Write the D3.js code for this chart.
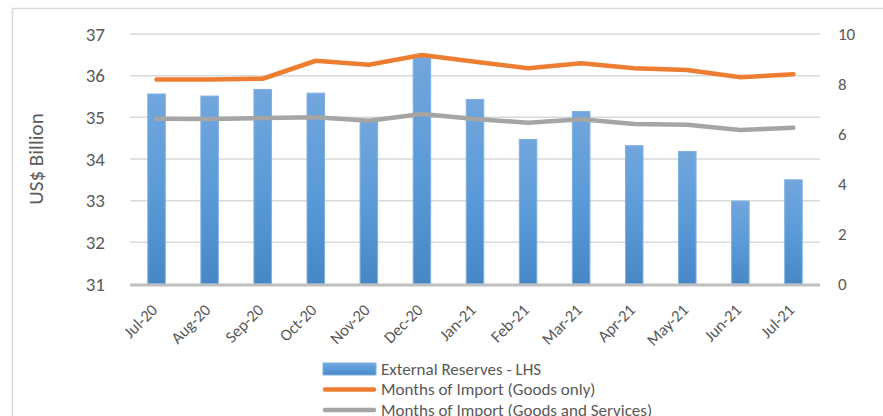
<!DOCTYPE html>
<html>
<head>
<meta charset="utf-8">
<script src="https://cdn.jsdelivr.net/npm/d3@7"></script>
<style>
  body { margin: 0; background: #fff; }
  svg text { font-family: Carlito, Lato, "Open Sans", sans-serif; fill: #595959; }
</style>
</head>
<body>
<div id="chart"></div>
<script>
// data
var months = ["Jul-20","Aug-20","Sep-20","Oct-20","Nov-20","Dec-20","Jan-21","Feb-21","Mar-21","Apr-21","May-21","Jun-21","Jul-21"];
var reserves = [35.56, 35.51, 35.67, 35.58, 34.92, 36.44, 35.43, 34.47, 35.14, 34.32, 34.18, 32.99, 33.50];
var goodsOnly = [8.18, 8.18, 8.21, 8.93, 8.77, 9.16, 8.89, 8.63, 8.83, 8.63, 8.56, 8.27, 8.39];
var goodsServices = [6.61, 6.60, 6.64, 6.67, 6.53, 6.80, 6.60, 6.45, 6.59, 6.40, 6.37, 6.16, 6.25];
var leftTicks = [31, 32, 33, 34, 35, 36, 37];
var rightTicks = [0, 2, 4, 6, 8, 10];
var legendLabels = ["External Reserves - LHS", "Months of Import (Goods only)", "Months of Import (Goods and Services)"];

var W = 883, H = 416;
var plot = {left: 130, right: 820, top: 34, bottom: 284};

var svg = d3.select("#chart").append("svg")
  .attr("width", W)
  .attr("height", H);

// bar gradient
var grad = svg.append("defs").append("linearGradient")
  .attr("id", "barGrad")
  .attr("x1", 0).attr("y1", 0).attr("x2", 0).attr("y2", 1);
grad.append("stop").attr("offset", "0%").attr("stop-color", "#72a6dd");
grad.append("stop").attr("offset", "50%").attr("stop-color", "#5b9bd8");
grad.append("stop").attr("offset", "100%").attr("stop-color", "#4787c6");

// outer frame
svg.append("path")
  .attr("d", "M12.5," + H + "V8.5H" + W)
  .attr("fill", "none")
  .attr("stroke", "#d9d9d9")
  .attr("stroke-width", 1.5);

var x = d3.scaleBand()
  .domain(months)
  .range([plot.left, plot.right])
  .paddingInner(0.67)
  .paddingOuter(0.335);

var yL = d3.scaleLinear().domain([31, 37]).range([plot.bottom, plot.top]);
var yR = d3.scaleLinear().domain([0, 10]).range([plot.bottom, plot.top]);

// gridlines
svg.append("g")
  .selectAll("line")
  .data(leftTicks.slice(1))
  .enter().append("line")
    .attr("x1", plot.left).attr("x2", plot.right)
    .attr("y1", function(d) { return yL(d); })
    .attr("y2", function(d) { return yL(d); })
    .attr("stroke", "#d9d9d9")
    .attr("stroke-width", 1.5);

// left axis
var gl = svg.append("g")
  .attr("transform", "translate(" + (plot.left - 25) + ",0)")
  .call(d3.axisLeft(yL).tickValues(leftTicks).tickFormat(d3.format("d")).tickSize(0).tickPadding(0));
gl.select(".domain").remove();
gl.selectAll("text").style("font-size", "19px").attr("fill", "#595959");

// right axis
var gr = svg.append("g")
  .attr("transform", "translate(" + (plot.right + 18) + ",0)")
  .call(d3.axisRight(yR).tickValues(rightTicks).tickSize(0).tickPadding(0));
gr.select(".domain").remove();
gr.selectAll("text").style("font-size", "17px").attr("fill", "#595959");

// y title
svg.append("text")
  .attr("transform", "translate(43,159) rotate(-90)")
  .attr("text-anchor", "middle")
  .style("font-size", "21px")
  .text("US$ Billion");

// bars
svg.append("g")
  .selectAll("rect")
  .data(reserves)
  .enter().append("rect")
    .attr("x", function(d, i) { return x(months[i]); })
    .attr("y", function(d) { return yL(d); })
    .attr("width", x.bandwidth())
    .attr("height", function(d) { return yL(31) - yL(d); })
    .attr("fill", "url(#barGrad)")
    .attr("stroke", "#7fb0e3")
    .attr("stroke-width", 1);

// baseline
svg.append("line")
  .attr("x1", plot.left).attr("x2", plot.right)
  .attr("y1", plot.bottom + 1).attr("y2", plot.bottom + 1)
  .attr("stroke", "#bfbfbf")
  .attr("stroke-width", 3);

var cx = function(d, i) { return x(months[i]) + x.bandwidth() / 2; };

svg.append("path")
  .datum(goodsServices)
  .attr("fill", "none")
  .attr("stroke", "#a5a5a5")
  .attr("stroke-width", 4.5)
  .attr("stroke-linecap", "round")
  .attr("stroke-linejoin", "round")
  .attr("d", d3.line().x(cx).y(function(d) { return yR(d); }));

svg.append("path")
  .datum(goodsOnly)
  .attr("fill", "none")
  .attr("stroke", "#ed7d31")
  .attr("stroke-width", 4.5)
  .attr("stroke-linecap", "round")
  .attr("stroke-linejoin", "round")
  .attr("d", d3.line().x(cx).y(function(d) { return yR(d); }));

// x labels, rotated
svg.append("g")
  .selectAll("text")
  .data(months)
  .enter().append("text")
    .attr("transform", function(d) {
      return "translate(" + (x(d) + x.bandwidth() / 2 + 2) + "," + (plot.bottom + 27) + ") rotate(-45)";
    })
    .attr("text-anchor", "end")
    .style("font-size", "16.5px")
    .text(function(d) { return d; });

// legend
var legend = svg.append("g").attr("transform", "translate(323,369)");
var rows = legend.selectAll("g")
  .data(legendLabels)
  .enter().append("g")
    .attr("transform", function(d, i) { return "translate(0," + (i * 20.5) + ")"; });

rows.each(function(d, i) {
  var r = d3.select(this);
  if (i === 0) {
    r.append("rect")
      .attr("x", 0).attr("y", -6)
      .attr("width", 53).attr("height", 12)
      .attr("fill", "url(#barGrad)")
      .attr("stroke", "#7fb0e3");
  } else {
    r.append("line")
      .attr("x1", 2).attr("x2", 51)
      .attr("stroke", i === 1 ? "#ed7d31" : "#a5a5a5")
      .attr("stroke-width", 4.5)
      .attr("stroke-linecap", "round");
  }
  r.append("text")
    .attr("x", 58)
    .attr("dy", "0.35em")
    .style("font-size", "17px")
    .text(d);
});
</script>
</body>
</html>
